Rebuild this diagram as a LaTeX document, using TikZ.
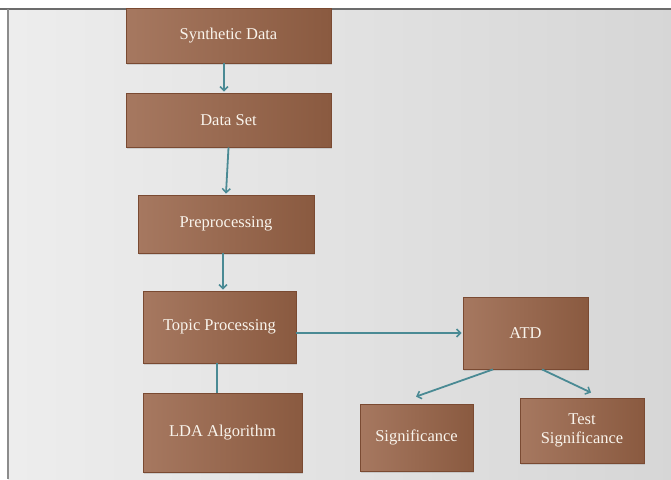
\documentclass[tikz,border=0pt]{standalone}
\usepackage{fontspec}
\setmainfont{Liberation Serif}
\usetikzlibrary{arrows.meta,shadows}
\definecolor{boxL}{HTML}{A67860}
\definecolor{boxR}{HTML}{8A5A40}
\definecolor{boxEdge}{HTML}{7A4A32}
\definecolor{arr}{HTML}{4A8A94}
\definecolor{txt}{HTML}{F9F4EC}
\tikzset{
  box/.style={rectangle, draw=boxEdge, line width=0.8pt, left color=boxL, right color=boxR,
    text=txt, font=\fontsize{16.5}{19}\selectfont, align=center, inner sep=2pt,
    drop shadow={opacity=0.25, shadow xshift=1pt, shadow yshift=-1.5pt}},
  conn/.style={draw=arr, line width=1.8pt, -{Straight Barb[length=4pt,width=8pt,line width=1.5pt]}},
  plain/.style={draw=arr, line width=2.2pt}
}
\begin{document}
\begin{tikzpicture}[x=1pt,y=-1pt]
\useasboundingbox (0,0) rectangle (671,479);
\fill[white] (0,0) rectangle (671,479);
\shade[left color=white!93!black, right color=white!84!black] (8,9) rectangle (671,479);
\draw[gray!85!black, line width=2pt] (0,9) -- (671,9);
\draw[gray!90, line width=1.5pt] (8,9) -- (8,479);

\node[box, minimum width=205, minimum height=55] (syn) at (228.5,35.5) {Synthetic Data};
\node[box, minimum width=205, minimum height=54] (ds) at (228.5,120) {Data Set};
\node[box, minimum width=176, minimum height=58] (pre) at (226,224) {Preprocessing};
\node[box, minimum width=153, minimum height=72] (top) at (219.5,327) {Topic Processing};
\node[box, minimum width=159, minimum height=79] (lda) at (222.5,432.5) {LDA Algorithm};
\node[box, minimum width=125, minimum height=72] (atd) at (525.5,333) {ATD};
\node[box, minimum width=113, minimum height=67] (sig) at (416.5,437.5) {Significance};
\node[box, minimum width=124, minimum height=65] (tsig) at (582,430.5) {Test\\Significance};

\draw[conn] ([xshift=-4.5pt]syn.south) -- ([xshift=-4.5pt,yshift=1pt]ds.north);
\draw[conn] (ds.south) -- ([yshift=1pt]pre.north);
\draw[conn] ([xshift=-3pt]pre.south) -- ([xshift=3.5pt,yshift=1pt]top.north);
\draw[plain] ([xshift=-2.5pt]top.south) -- ([xshift=-5.5pt]lda.north);
\draw[conn] (top.east |- atd.west) -- ([xshift=-1pt]atd.west);
\draw[conn] ([xshift=-32.5pt]atd.south) -- ([xshift=-0.5pt,yshift=7pt]sig.north);
\draw[conn] ([xshift=16.5pt]atd.south) -- ([xshift=9pt,yshift=5pt]tsig.north);
\end{tikzpicture}
\end{document}
